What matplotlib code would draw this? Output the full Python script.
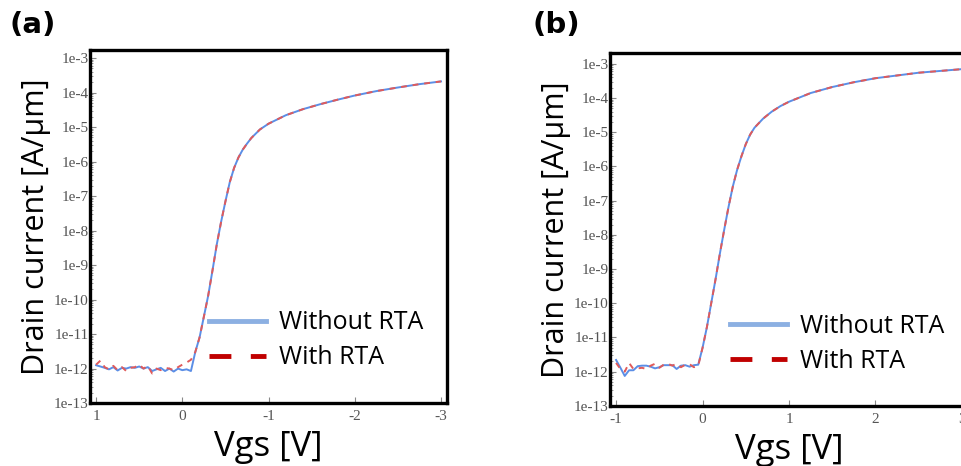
import numpy as np
import matplotlib
matplotlib.use('Agg')
import matplotlib.pyplot as plt
from matplotlib.lines import Line2D
from matplotlib.ticker import FixedLocator, LogLocator, NullFormatter

# ---- data ----
# panel (a): Vgs swept 1 -> -3 V
vgs_a_off = [1.00, 0.95, 0.90, 0.85, 0.80, 0.75, 0.70, 0.65, 0.60, 0.55, 0.50, 0.45,
             0.40, 0.35, 0.30, 0.25, 0.20, 0.15, 0.10, 0.05, 0.00, -0.05, -0.10]
id_a_off_without = [1.25e-12, 1.15e-12, 1.05e-12, 0.95e-12, 1.1e-12, 0.88e-12, 1.05e-12,
                    1.0e-12, 1.1e-12, 1.05e-12, 1.15e-12, 1.0e-12, 1.1e-12, 0.85e-12,
                    0.95e-12, 1.05e-12, 0.85e-12, 1.0e-12, 0.82e-12, 1.0e-12, 0.9e-12,
                    0.95e-12, 0.85e-12]
id_a_off_with = [1.3e-12, 1.7e-12, 1.1e-12, 0.95e-12, 1.2e-12, 0.9e-12, 1.1e-12, 0.85e-12,
                 1.05e-12, 1.1e-12, 1.3e-12, 1.0e-12, 1.2e-12, 0.72e-12, 1.0e-12, 0.9e-12,
                 1.05e-12, 1.0e-12, 0.9e-12, 1.1e-12, 1.3e-12, 1.5e-12, 1.8e-12]
vgs_a_on = [-0.15, -0.20, -0.25, -0.30, -0.35, -0.40, -0.45, -0.50, -0.55, -0.60, -0.65,
            -0.70, -0.75, -0.80, -0.90, -1.00, -1.20, -1.40, -1.60, -1.80, -2.00, -2.25,
            -2.50, -2.75, -3.00]
id_a_on = [3.0e-12, 8e-12, 3.2e-11, 1.3e-10, 7e-10, 4e-9, 1.8e-8, 7e-8, 2.5e-7, 6.5e-7,
           1.3e-6, 2.2e-6, 3.3e-6, 4.8e-6, 8.5e-6, 1.25e-5, 2.2e-5, 3.3e-5, 4.6e-5, 6.2e-5,
           8.2e-5, 1.1e-4, 1.4e-4, 1.75e-4, 2.1e-4]

# panel (b): Vgs swept -1 -> 3 V
vgs_b_off = [-1.00, -0.95, -0.90, -0.85, -0.80, -0.75, -0.70, -0.65, -0.60, -0.55, -0.50,
             -0.45, -0.40, -0.35, -0.30, -0.25, -0.20, -0.15, -0.10, -0.05]
id_b_off_without = [2.2e-12, 1.3e-12, 0.75e-12, 1.1e-12, 1.1e-12, 1.45e-12, 1.5e-12,
                    1.5e-12, 1.4e-12, 1.25e-12, 1.35e-12, 1.55e-12, 1.55e-12, 1.55e-12,
                    1.2e-12, 1.5e-12, 1.55e-12, 1.4e-12, 1.55e-12, 1.6e-12]
id_b_off_with = [1.8e-12, 1.2e-12, 1.0e-12, 1.8e-12, 1.2e-12, 1.25e-12, 1.3e-12, 1.2e-12,
                 1.5e-12, 1.7e-12, 1.3e-12, 1.6e-12, 1.7e-12, 1.5e-12, 1.7e-12, 1.35e-12,
                 1.6e-12, 1.65e-12, 1.35e-12, 1.5e-12]
vgs_b_on = [0.00, 0.05, 0.10, 0.15, 0.20, 0.25, 0.30, 0.35, 0.40, 0.45, 0.50, 0.55, 0.60,
            0.70, 0.80, 0.90, 1.00, 1.25, 1.50, 1.75, 2.00, 2.50, 3.00]
id_b_on = [5e-12, 2e-11, 1e-10, 5e-10, 2.8e-9, 1.4e-8, 6.5e-8, 2.6e-7, 8e-7, 2e-6, 4.5e-6,
           8.5e-6, 1.35e-5, 2.5e-5, 4e-5, 5.8e-5, 7.8e-5, 1.4e-4, 2.1e-4, 2.9e-4, 3.8e-4,
           5.5e-4, 7e-4]

yticks = [1e-13, 1e-12, 1e-11, 1e-10, 1e-9, 1e-8, 1e-7, 1e-6, 1e-5, 1e-4, 1e-3]
yticklabels = ['1e-13', '1e-12', '1e-11', '1e-10', '1e-9', '1e-8', '1e-7', '1e-6',
               '1e-5', '1e-4', '1e-3']
xticks_a = [1, 0, -1, -2, -3]
xticks_b = [-1, 0, 1, 2, 3]
legend_labels = ['Without RTA', 'With RTA']

blue = '#5b8ee6'
red = '#e05a5a'

fig = plt.figure(figsize=(9.61, 4.66), dpi=100)


def panel(pos, vgs_off, off_wo, off_w, vgs_on, id_on, xlim, ylim_top, xticks, tag, tag_x,
          legend_anchor):
    ax = fig.add_axes(pos)
    ax.plot(vgs_off + vgs_on, off_wo + id_on, color=blue, lw=1.4, zorder=2)
    ax.plot(vgs_off + vgs_on, off_w + id_on, color=red, lw=1.4, ls=(0, (3, 3)), zorder=3)
    ax.set_yscale('log')
    ax.set_xlim(*xlim)
    ax.set_ylim(1e-13, ylim_top)
    ax.yaxis.set_major_locator(FixedLocator(yticks))
    ax.set_yticklabels(yticklabels)
    ax.yaxis.set_minor_locator(LogLocator(base=10, subs=np.arange(2, 10), numticks=100))
    ax.yaxis.set_minor_formatter(NullFormatter())
    ax.set_xticks(xticks)
    ax.set_xticklabels([str(t) for t in xticks])
    ax.tick_params(axis='both', which='major', direction='in', length=4, width=0.8,
                   colors='#888888', labelcolor='#555555', labelsize=11)
    ax.tick_params(axis='y', which='major', pad=1)
    ax.tick_params(axis='x', which='major', pad=5)
    ax.tick_params(axis='y', which='minor', direction='in', length=2.5, width=0.6,
                   colors='#888888')
    for lab in ax.get_xticklabels() + ax.get_yticklabels():
        lab.set_family('Liberation Serif')
    for s in ax.spines.values():
        s.set_linewidth(2.4)
        s.set_color('black')
    ax.set_ylabel('Drain current [A/μm]', fontsize=22, family='Open Sans', labelpad=2)
    ax.set_xlabel('Vgs [V]', fontsize=25, family='Open Sans', labelpad=5)
    handles = [Line2D([], [], color='#8cb0e2', lw=3.5),
               Line2D([], [], color='#c00000', lw=3.5, ls=(0, (4.5, 4)))]
    ax.legend(handles, legend_labels, loc='center left', bbox_to_anchor=legend_anchor,
              frameon=False, prop={'family': 'Open Sans', 'size': 18},
              handlelength=2.3, handletextpad=0.5, labelspacing=0.4, borderpad=0,
              borderaxespad=0)
    fig.text(tag_x, 0.946, tag, fontsize=21, fontweight='bold',
             family='DejaVu Sans', va='center', ha='left')
    return ax


panel([0.0937, 0.135, 0.3715, 0.7575], vgs_a_off, id_a_off_without, id_a_off_with,
      vgs_a_on, id_a_on, (1.07, -3.07), 10 ** -2.77, xticks_a, '(a)', 0.0104, (0.333, 0.178))
panel([0.6348, 0.129, 0.3725, 0.7575], vgs_b_off, id_b_off_without, id_b_off_with,
      vgs_b_on, id_b_on, (-1.07, 3.07), 10 ** -2.68, xticks_b, '(b)', 0.5546, (0.335, 0.176))

fig.savefig('out.png', dpi=100)
